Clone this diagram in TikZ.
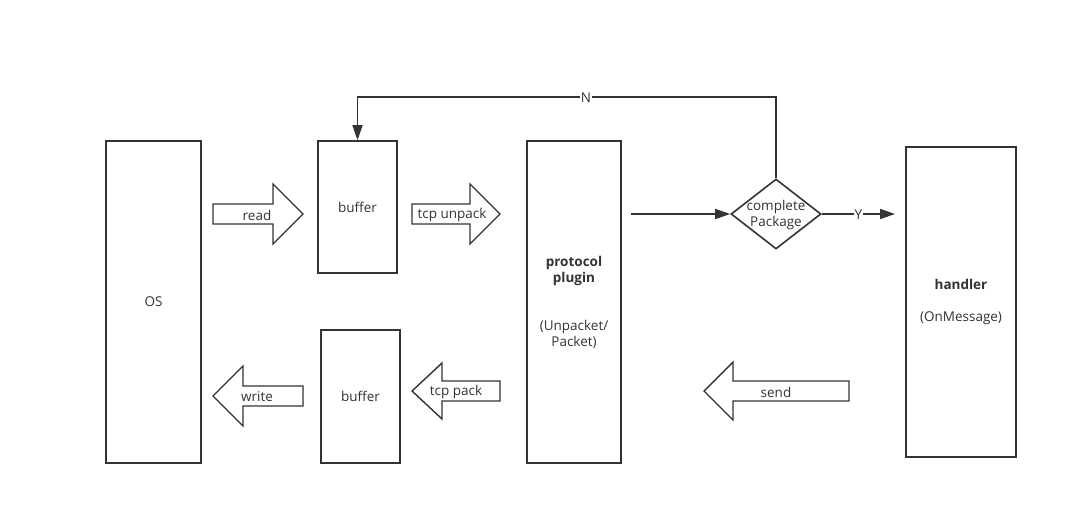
\documentclass[tikz,border=0pt]{standalone}
\usepackage{fontspec}
\setmainfont{Open Sans}
\usetikzlibrary{arrows.meta,shapes.geometric}
\definecolor{ink}{HTML}{333333}
\begin{document}
\begin{tikzpicture}[x=1pt,y=-1pt,
 txt/.style={font=\fontsize{13.5}{16}\selectfont, text=ink, align=center},
 box/.style={txt, draw=ink, line width=1.6pt, inner sep=0pt},
 blk/.style={draw=ink, line width=1.4pt, fill=white, line join=miter},
 lbl/.style={txt, inner sep=1pt, yshift=-1pt},
 conn/.style={draw=ink, line width=1.5pt, -{Triangle[length=15pt,width=10pt]}}]
\useasboundingbox (0,0) rectangle (1078,524);

% boxes
\node[box, minimum width=95pt, minimum height=322pt] (os) at (153.5,302) {OS};
\node[box, minimum width=79pt, minimum height=132pt] (buf1) at (357.5,207) {buffer};
\node[box, minimum width=79pt, minimum height=133pt] (buf2) at (360.5,396.5) {buffer};
\node[box, minimum width=94pt, minimum height=322pt] (plug) at (574,302)
  {\textbf{protocol}\\\textbf{plugin}\\~\\~\\(Unpacket/\\Packet)};
\node[box, minimum width=110pt, minimum height=310pt] (hand) at (961,302)
  {\textbf{handler}\\~\\(OnMessage)};

% decision
\node[draw=ink, line width=1.6pt, diamond, minimum width=90pt, minimum height=70pt, inner sep=0pt] (dec) at (776,214) {};
\node[lbl] (dectxt) at (dec) {complete\\Package};

% block arrows
\draw[blk] (213,204) -- (273,204) -- (273,184) -- (303,214) -- (273,244) -- (273,224) -- (213,224) -- cycle;
\node[lbl] (read) at (257,214) {read};
\draw[blk] (412,204) -- (470,204) -- (470,184) -- (500,214) -- (470,244) -- (470,224) -- (412,224) -- cycle;
\node[lbl] (unpack) at (452,214) {tcp unpack};
\draw[blk] (303,386) -- (243,386) -- (243,366) -- (213,396) -- (243,426) -- (243,406) -- (303,406) -- cycle;
\node[lbl] (write) at (257,396) {write};
\draw[blk] (500,381) -- (442,381) -- (442,363) -- (412,391) -- (442,419) -- (442,401) -- (500,401) -- cycle;
\node[lbl] (pack) at (456,391) {tcp pack};
\draw[blk] (849,381) -- (733,381) -- (733,362) -- (704,391) -- (733,420) -- (733,401) -- (849,401) -- cycle;
\node[lbl] (send) at (776,391) {send};

% connectors
\coordinate (pout) at (631,214);
\coordinate (yend) at (895,214);
\coordinate (topR) at (776,97);
\coordinate (topL) at (357.5,97);
\draw[conn] (pout) -- (dec.west);
\draw[conn] (dec.east) -- node[lbl, fill=white, inner sep=0.5pt] (ylab) {Y} (yend);
\draw[conn] (dec.north) -- (topR) -- (topL) -- (buf1.north);
\node[lbl, fill=white, inner sep=0.5pt] (nlab) at (586,97) {N};
\end{tikzpicture}
\end{document}
